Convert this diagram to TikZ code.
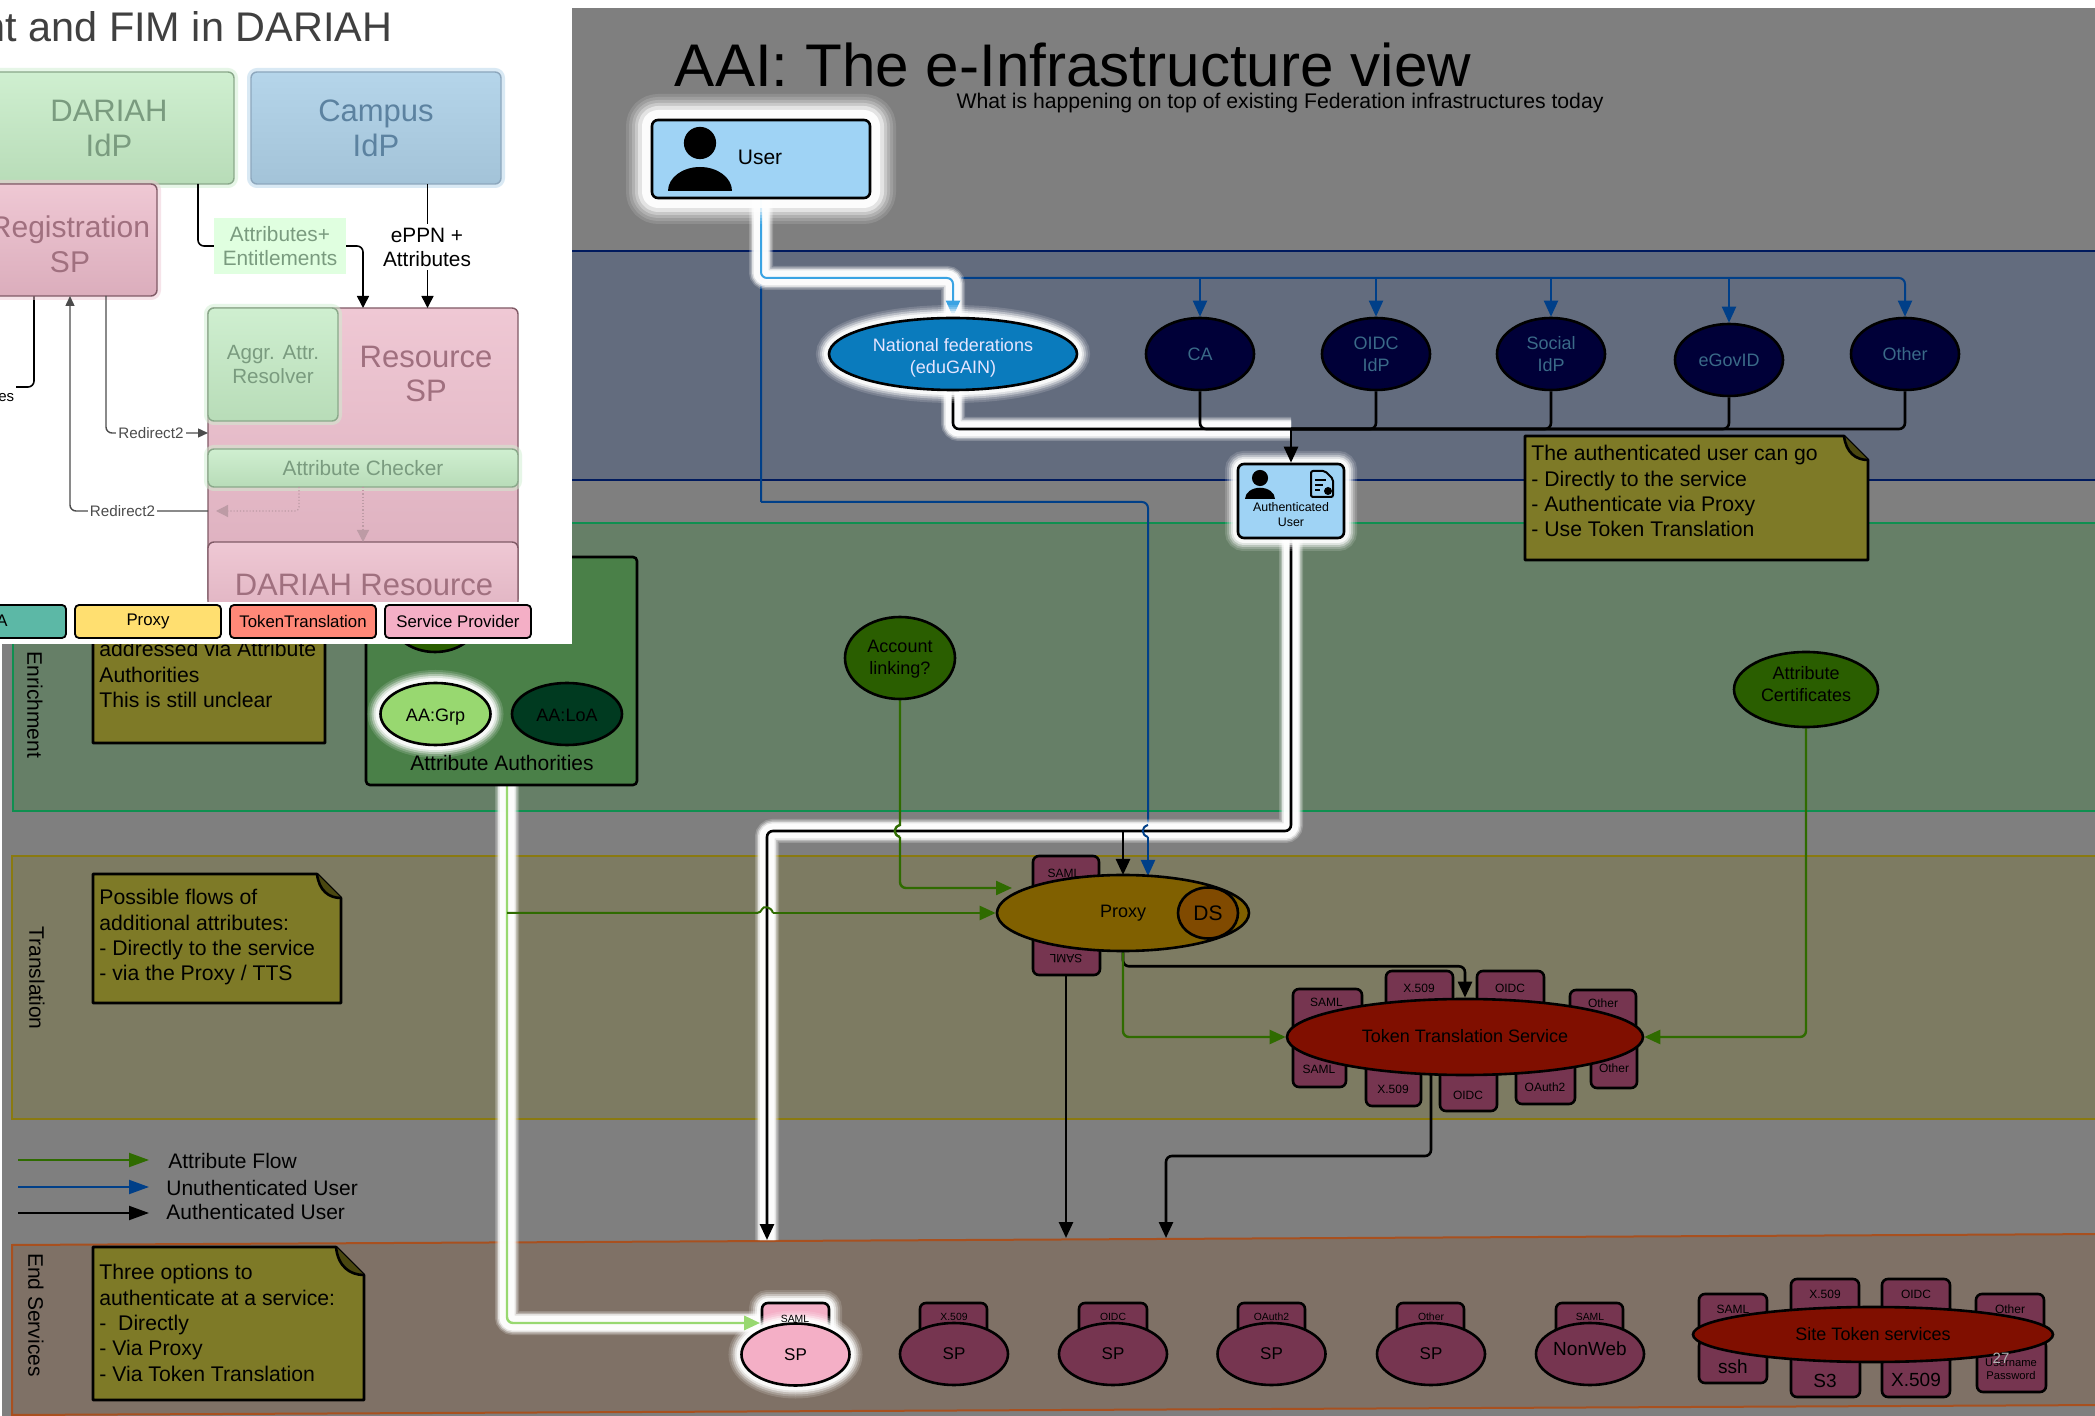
\documentclass[tikz,border=0pt]{standalone}
\usepackage{fontspec}
\setmainfont{Liberation Sans}
\usetikzlibrary{calc}
\usetikzlibrary{arrows.meta}
\usetikzlibrary{shapes.geometric}
\pgfdeclarelayer{flows}
\pgfsetlayers{flows,main}
\definecolor{pageGray}{HTML}{7F7F7F}
\definecolor{fedBand}{HTML}{636C7E}
\definecolor{fedLine}{HTML}{001A5E}
\definecolor{enrichBand}{HTML}{667F67}
\definecolor{enrichLine}{HTML}{0F8F50}
\definecolor{transBand}{HTML}{7D7B62}
\definecolor{transLine}{HTML}{8A7A10}
\definecolor{endBand}{HTML}{7F7166}
\definecolor{endLine}{HTML}{A8501F}
\definecolor{userBlue}{HTML}{9FD3F5}
\definecolor{noteOlive}{HTML}{7E7A27}
\definecolor{noteFold}{HTML}{4A4710}
\definecolor{tokenRed}{HTML}{763550}
\definecolor{ttsRed}{HTML}{800F00}
\definecolor{flowGreen}{HTML}{2F6B00}
\definecolor{flowBlue}{HTML}{003F88}
\definecolor{flowLime}{HTML}{98D870}
\definecolor{flowSky}{HTML}{3AA3E3}
\definecolor{nationalBlue}{HTML}{0A7BBD}
\definecolor{idpNavy}{HTML}{000038}
\definecolor{idpText}{HTML}{3A6A88}
\definecolor{proxyOchre}{HTML}{806000}
\definecolor{discoveryOrange}{HTML}{804A00}
\definecolor{attrBox}{HTML}{4A8048}
\definecolor{attrDark}{HTML}{2A5E00}
\definecolor{loaDark}{HTML}{003A20}
\definecolor{spPink}{HTML}{F4AFC6}
\definecolor{panelGreenA}{HTML}{CFEFD0}
\definecolor{panelGreenB}{HTML}{B8DCB8}
\definecolor{panelGreenText}{HTML}{7A9B7F}
\definecolor{panelGreenLine}{HTML}{8AA88A}
\definecolor{panelBlueA}{HTML}{B5D5EA}
\definecolor{panelBlueB}{HTML}{A3C3D8}
\definecolor{panelBlueText}{HTML}{5C82A0}
\definecolor{panelPinkA}{HTML}{EFC8D4}
\definecolor{panelPinkB}{HTML}{DBADBC}
\definecolor{panelPinkText}{HTML}{A0707F}
\definecolor{entFill}{HTML}{E0FFE0}
\definecolor{keyTeal}{HTML}{5CB8A6}
\definecolor{keyYellow}{HTML}{FFDF70}
\definecolor{keySalmon}{HTML}{FF8878}
\newcommand{\fs}[2]{\fontsize{#1}{#2}\selectfont}
\newcommand{\boxNode}[7]{\node[#2, inner sep=0pt, align=center, minimum width={(#5-#3)*0.5pt}, minimum height={(#6-#4)*0.5pt}] (#1) at ({(#3+#5)/2},{(#4+#6)/2}) {#7};}
\newcommand{\tokenTab}[8]{\boxNode{#1}{tokenBox}{#2}{#3}{#4}{#5}{}
    \node[tokenText] (#1Text) at (#6,#7) {#8};}
\newcommand{\noteBox}[7]{\draw[noteBody] (#2,#3) -- (#4-#6,#3) -- (#4,#3+#6) -- (#4,#5) -- (#2,#5) -- cycle;
    \fill[noteFold] (#4-#6,#3) .. controls (#4-#6+2,#3+#6*0.7) and (#4-#6*0.5,#3+#6) .. (#4,#3+#6) -- cycle;
    \draw[line width=1.3pt] (#4-#6,#3) .. controls (#4-#6+2,#3+#6*0.7) and (#4-#6*0.5,#3+#6) .. (#4,#3+#6);
    \node[noteText] (#1) at (#2+6,#3+#7) {\noteLines};}
\newcommand{\personIcon}[5]{\fill (#1,#2) ellipse[x radius=#3*0.62, y radius=#3*0.62];
    \fill (#1-#4,#5) arc[start angle=180, end angle=360, x radius=#4, y radius=#4*0.75] -- cycle;}

\begin{document}
\begin{tikzpicture}[x=0.5pt,y=-0.5pt]
    \tikzstyle{glowNode} = [preaction={draw=white, opacity=0.12, line width=26pt, line join=round}, preaction={draw=white, opacity=0.15, line width=23pt, line join=round}, preaction={draw=white, opacity=0.2, line width=20pt, line join=round}, preaction={draw=white, opacity=0.3, line width=17pt, line join=round}, preaction={draw=white, opacity=0.5, line width=14pt, line join=round}, preaction={draw=white, opacity=0.9, line width=10pt, line join=round}]
    \tikzstyle{glowSmall} = [preaction={draw=white, opacity=0.15, line width=13pt}, preaction={draw=white, opacity=0.2, line width=11pt}, preaction={draw=white, opacity=0.35, line width=9pt}, preaction={draw=white, opacity=0.55, line width=7pt}, preaction={draw=white, opacity=0.8, line width=5pt}]
    \tikzstyle{glowLine} = [preaction={draw=white, opacity=0.2, line width=12pt, -}, preaction={draw=white, opacity=0.35, line width=10.5pt, -}, preaction={draw=white, opacity=0.6, line width=9pt, -}, preaction={draw=white, opacity=0.9, line width=7.5pt, -}]
    \tikzstyle{tokenBox} = [draw=black, line width=1.3pt, rounded corners=3pt, fill=tokenRed]
    \tikzstyle{tokenText} = [inner sep=0pt, font=\fs{6}{7}]
    \tikzstyle{oval} = [ellipse, draw=black, line width=1.3pt, inner sep=0pt, align=center, font=\fs{9}{11}]
    \tikzstyle{idpOval} = [oval, fill=idpNavy, minimum width=54pt, minimum height=36pt, text=idpText]
    \tikzstyle{spOval} = [oval, fill=tokenRed, minimum width=54pt, minimum height=31pt, font=\fs{8.5}{10}]
    \tikzstyle{attrOval} = [oval, fill=attrDark]
    \tikzstyle{noteBody} = [draw=black, line width=1.3pt, line join=round, fill=noteOlive]
    \tikzstyle{noteText} = [anchor=north west, inner sep=0pt, align=left, font=\fs{10.6}{12.7}]
    \tikzstyle{bandText} = [inner sep=0pt, rotate=-90, font=\fs{10.5}{12}]
    \tikzstyle{flowAuth} = [draw=black, line width=1.3pt, rounded corners=3pt, -{Triangle[length=8pt, width=7pt]}]
    \tikzstyle{flowAuthPlain} = [draw=black, line width=1.3pt, rounded corners=3pt]
    \tikzstyle{flowUnauth} = [draw=flowBlue, line width=1pt, rounded corners=3pt, -{Triangle[length=8pt, width=7pt]}]
    \tikzstyle{flowUnauthPlain} = [draw=flowBlue, line width=1pt, rounded corners=3pt]
    \tikzstyle{flowAttr} = [draw=flowGreen, line width=1.2pt, rounded corners=3pt, -{Triangle[length=8pt, width=7pt]}]
    \tikzstyle{panelBox} = [line width=0.7pt, rounded corners=3pt]
    \tikzstyle{greenBox} = [panelBox, draw=panelGreenLine, top color=panelGreenA, bottom color=panelGreenB, text=panelGreenText, font=\fs{15.5}{17.5}, preaction={draw=panelGreenA, opacity=0.5, line width=4pt}]
    \tikzstyle{campusBox} = [panelBox, draw=panelBlueText!70, top color=panelBlueA, bottom color=panelBlueB, text=panelBlueText, font=\fs{15.5}{17.5}, preaction={draw=panelBlueA, opacity=0.5, line width=4pt}]
    \tikzstyle{pinkBox} = [panelBox, draw=panelPinkText!80!black, top color=panelPinkA, bottom color=panelPinkB, text=panelPinkText, font=\fs{15}{17.5}]
    \tikzstyle{panelFlow} = [draw=black!70, line width=0.7pt, rounded corners=3pt, -{Triangle[length=5pt, width=4.5pt]}]
    \tikzstyle{keyBox} = [draw=black, line width=0.9pt, rounded corners=2pt, font=\fs{8.4}{10}]
    \useasboundingbox (0,0) rectangle (2095,1416);

    \begin{pgfonlayer}{flows}
        \fill[white] (0,0) rectangle (2095,1416);
        \fill[pageGray] (2,8) rectangle (2095,1416);
        \filldraw[fill=fedBand, draw=fedLine, line width=1pt] (500,251) rectangle (2110,480);
        \filldraw[fill=enrichBand, draw=enrichLine, line width=1pt] (12.5,523) rectangle (2110,811);
        \filldraw[fill=transBand, draw=transLine, line width=1pt] (12,856) rectangle (2110,1119);
        \filldraw[fill=endBand, draw=endLine, line width=1pt] (12,1245) -- (2110,1234) -- (2110,1405) -- (12,1415) -- cycle;
    \end{pgfonlayer}

    \node[inner sep=0pt, font=\fs{30.1}{32}] (pageTitle) at (1073,65) {AAI: The e-Infrastructure view};
    \node[inner sep=0pt, font=\fs{10.6}{13}] (pageSub) at (1280,103) {What is happening on top of existing Federation infrastructures today};

    \boxNode{user}{draw=black, line width=1.3pt, rounded corners=3pt, fill=userBlue, glowNode}{652}{120}{870}{198}{}
    \personIcon{700}{143}{26}{32}{191}
    \node[inner sep=0pt, font=\fs{10.5}{12}] (userText) at (760,157) {User};

    \node[oval, glowSmall, fill=nationalBlue, minimum width=124pt, minimum height=36pt] (national) at (953,354) {};
    \node[inner sep=0pt, align=center, text=white!90!blue, font=\fs{9}{11.2}] (nationalText) at (953,358) {National federations\\(eduGAIN)};
    \node[idpOval] (ca) at (1200,354) {CA};
    \node[idpOval] (oidcIdp) at (1376,354) {OIDC\\IdP};
    \node[idpOval] (socialIdp) at (1551,354) {Social\\IdP};
    \node[idpOval] (eGovId) at (1729,360) {eGovID};
    \node[idpOval] (otherIdp) at (1905,354) {Other};

    \boxNode{authUser}{draw=black, line width=1.3pt, rounded corners=3pt, fill=userBlue, glowSmall}{1238}{464}{1344}{538}{}
    \personIcon{1260}{478}{13}{15}{499}
    \draw[line width=1pt, rounded corners=1pt] (1311,471) -- (1325,471) -- (1333,479) -- (1333,497) -- (1311,497) -- cycle;
    \draw[line width=0.7pt] (1315,480) -- (1326,480) (1315,485) -- (1323,485) (1315,490) -- (1320,490);
    \fill[black] (1328,491) circle[radius=4];
    \node[inner sep=0pt, align=center, font=\fs{6.2}{7.6}] (authText) at (1291,514.5) {Authenticated\\User};

    \def\noteLines{The authenticated user can go\\- Directly to the service\\- Authenticate via Proxy\\- Use Token Translation}
    \noteBox{noteAuth}{1525}{436}{1868}{560}{24}{9}

    \boxNode{aaBox}{draw=black, line width=1.3pt, rounded corners=2pt, fill=attrBox}{366}{557}{637}{785}{}
    \node[attrOval, minimum width=43pt, minimum height=32pt] (aaTop) at (435,620) {};
    \node[oval, glowSmall, fill=flowLime, minimum width=55pt, minimum height=31pt] (aaGrp) at (435.5,714) {};
    \node[inner sep=0pt, font=\fs{9}{11}] (aaGrpText) at (435.5,717) {AA:Grp};
    \node[oval, fill=loaDark, minimum width=55pt, minimum height=31pt] (aaLoa) at (567,714) {};
    \node[inner sep=0pt, font=\fs{9}{11}] (aaLoaText) at (567,715) {AA:LoA};
    \node[inner sep=0pt, font=\fs{10.5}{12}] (aaText) at (502,763) {Attribute Authorities};

    \def\noteLines{addressed via Attribute\\Authorities\\This is still unclear}
    \noteBox{noteEnrich}{93}{600}{325}{743}{1}{41}
    \node[bandText] (enrichText) at (35,705) {Enrichment};
    \node[bandText] (transText) at (37,978) {Translation};
    \node[bandText] (endText) at (36,1315) {End Services};

    \node[attrOval, minimum width=55pt, minimum height=41pt] (accountLink) at (900,658) {};
    \node[inner sep=0pt, align=center, font=\fs{9}{11}] (accountText) at (900,659) {Account\\linking?};
    \node[attrOval, minimum width=72pt, minimum height=37.5pt] (attrCert) at (1806,689.5) {};
    \node[inner sep=0pt, align=center, font=\fs{9}{11}] (attrCertText) at (1806,684) {Attribute\\Certificates};

    \def\noteLines{Possible flows of\\additional attributes:\\- Directly to the service\\- via the Proxy / TTS}
    \noteBox{noteTrans}{93}{874}{341}{1003}{24}{15}

    \tokenTab{proxySamlTop}{1033}{856}{1099}{900}{1064}{873}{SAML}
    \boxNode{proxySamlBottom}{tokenBox}{1033}{930}{1100}{975}{}
    \node[tokenText, rotate=180] (proxySamlBottomText) at (1066,959) {SAML};
    \node[oval, fill=proxyOchre, minimum width=126pt, minimum height=38pt] (proxy) at (1123,913) {};
    \node[inner sep=0pt, font=\fs{9}{11}] (proxyText) at (1123,913) {Proxy};
    \node[oval, fill=discoveryOrange, minimum width=30pt, minimum height=25.5pt, font=\fs{10.5}{12}] (discovery) at (1208,913) {DS};

    \tokenTab{ttsSamlA}{1293}{989}{1362}{1040}{1326.5}{1002}{SAML}
    \tokenTab{ttsX509A}{1386}{971}{1453}{1020}{1419}{988}{X.509}
    \tokenTab{ttsOidcA}{1477}{971}{1544}{1020}{1510}{988}{OIDC}
    \tokenTab{ttsOtherA}{1570}{990}{1636}{1040}{1603}{1003}{Other}
    \tokenTab{ttsSamlB}{1293}{1040}{1346}{1087}{1319}{1069}{SAML}
    \tokenTab{ttsX509B}{1366}{1050}{1421}{1106}{1393}{1089}{X.509}
    \tokenTab{ttsOidcB}{1440}{1050}{1497}{1111}{1468}{1095}{OIDC}
    \tokenTab{ttsOauthB}{1516}{1050}{1575}{1104}{1545}{1087}{OAuth2}
    \tokenTab{ttsOtherB}{1591}{1040}{1637}{1088}{1614}{1068}{Other}
    \node[oval, fill=ttsRed, minimum width=178pt, minimum height=38pt] (tts) at (1465,1037) {};
    \node[inner sep=0pt, font=\fs{9}{11}] (ttsText) at (1465,1036) {Token Translation Service};

    \coordinate (keyGreenA) at (18,1160);
    \coordinate (keyGreenB) at (149,1160);
    \coordinate (keyBlueA) at (18,1187);
    \coordinate (keyBlueB) at (149,1187);
    \coordinate (keyBlackA) at (18,1213);
    \coordinate (keyBlackB) at (149,1213);
    \draw[flowGreen, line width=1pt, -{Triangle[length=10pt, width=7pt]}] (keyGreenA) -- (keyGreenB);
    \draw[flowBlue, line width=1pt, -{Triangle[length=10pt, width=7pt]}] (keyBlueA) -- (keyBlueB);
    \draw[black, line width=1pt, -{Triangle[length=10pt, width=7pt]}] (keyBlackA) -- (keyBlackB);
    \node[anchor=west, inner sep=0pt, font=\fs{10.5}{12}] (keyGreenText) at (168,1161) {Attribute Flow};
    \node[anchor=west, inner sep=0pt, font=\fs{10.5}{12}] (keyBlueText) at (166,1188) {Unuthenticated User};
    \node[anchor=west, inner sep=0pt, font=\fs{10.5}{12}] (keyBlackText) at (166,1212) {Authenticated User};

    \def\noteLines{Three options to\\authenticate at a service:\\-\ \ Directly\\- Via Proxy\\- Via Token Translation}
    \noteBox{noteEnd}{93}{1247}{364}{1400}{28}{17}

    \boxNode{spSamlTab}{tokenBox, fill=spPink, glowSmall}{762}{1303}{829}{1345}{}
    \node[spOval, glowSmall, fill=spPink] (spSaml) at (795.5,1354.5) {SP};
    \node[tokenText, font=\fs{5.2}{6}] (spSamlText) at (795,1319) {SAML};
    \tokenTab{spX509Tab}{920}{1303}{987}{1345}{954}{1317}{\fs{5.2}{6}X.509}
    \node[spOval] (spX509) at (954,1354) {SP};
    \tokenTab{spOidcTab}{1079}{1303}{1147}{1345}{1113}{1317}{\fs{5.2}{6}OIDC}
    \node[spOval] (spOidc) at (1113,1354) {SP};
    \tokenTab{spOauthTab}{1238}{1303}{1305}{1345}{1271.5}{1317}{\fs{5.2}{6}OAuth2}
    \node[spOval] (spOauth) at (1271.5,1354) {SP};
    \tokenTab{spOtherTab}{1397}{1303}{1464}{1345}{1431}{1317}{\fs{5.2}{6}Other}
    \node[spOval] (spOther) at (1431,1354) {SP};
    \tokenTab{nonWebTab}{1556}{1303}{1623}{1345}{1590}{1317}{\fs{5.2}{6}SAML}
    \node[spOval] (nonWeb) at (1590,1354) {};
    \node[inner sep=0pt, font=\fs{9.5}{11}] (nonWebText) at (1590,1349) {NonWeb};

    \tokenTab{siteSamlA}{1699}{1294}{1767}{1335}{1733}{1309}{SAML}
    \tokenTab{siteX509A}{1791}{1279}{1859}{1320}{1825}{1294}{X.509}
    \tokenTab{siteOidcA}{1882}{1279}{1950}{1320}{1916}{1294}{OIDC}
    \tokenTab{siteOtherA}{1976}{1294}{2044}{1335}{2010}{1309}{Other}
    \tokenTab{siteSshB}{1699}{1340}{1767}{1383}{1733}{1367}{\fs{9.5}{11}ssh}
    \tokenTab{siteS3B}{1791}{1345}{1860}{1397}{1825}{1381}{\fs{9.5}{11}S3}
    \tokenTab{siteX509B}{1882}{1345}{1950}{1397}{1916}{1380}{\fs{9.5}{11}X.509}
    \boxNode{sitePassB}{tokenBox}{1977}{1340}{2046}{1392}{}
    \node[tokenText, align=center, font=\fs{5.6}{6.2}] (sitePassText) at (2011,1369) {Username\\Password};
    \node[oval, fill=ttsRed, minimum width=180pt, minimum height=27.5pt] (siteToken) at (1873,1334.5) {Site Token services};
    \node[inner sep=0pt, text=black!30, font=\fs{7.5}{9}] (pageNumber) at (2001,1358) {27};

    \begin{pgfonlayer}{flows}
        \coordinate (busTurn) at (761,278);
        \coordinate (downTurn) at (761,502);
        \coordinate (proxyBlue) at (1148,876);
        \coordinate (proxyBlack) at (1123,875);
        \coordinate (mergeTop) at (1291,429);
        \coordinate (authTurn) at (1291,831);
        \coordinate (authDrop) at (767,1240);
        \coordinate (authBranch) at (1123,831);
        \coordinate (aaOut) at (507,785);
        \coordinate (aaBranch) at (507,913);
        \coordinate (spEntry) at (760,1323);
        \coordinate (spEntryBack) at (735,1323);
        \coordinate (hopBlueA) at (1148,825);
        \coordinate (hopBlueB) at (1148,837);
        \coordinate (hopLinkA) at (900,825);
        \coordinate (hopLinkB) at (900,837);
        \coordinate (hopAaA) at (761,913);
        \coordinate (hopAaB) at (773,913);
        \coordinate (proxyLink) at (1012,888);
        \coordinate (samlOut) at (1066,975);
        \coordinate (samlDrop) at (1066,1238);
        \coordinate (ttsOut) at (1431,1075);
        \coordinate (ttsTurn) at (1431,1156);
        \coordinate (ttsDrop) at (1166,1238);

        \draw[flowUnauth] (downTurn) -- (busTurn) -- (otherIdp.north |- busTurn) -- (otherIdp.north);
        \draw[flowUnauth] (ca.north |- busTurn) -- (ca.north);
        \draw[flowUnauth] (oidcIdp.north |- busTurn) -- (oidcIdp.north);
        \draw[flowUnauth] (socialIdp.north |- busTurn) -- (socialIdp.north);
        \draw[flowUnauth] (eGovId.north |- busTurn) -- (eGovId.north);
        \draw[flowUnauth, flowSky, glowLine] (user.south -| busTurn) -- (busTurn) -| (national.north);
        \draw[flowUnauthPlain] (downTurn) -- (downTurn -| proxyBlue) -- (hopBlueA);

        \draw[flowAuthPlain, glowLine] (national.south) |- (mergeTop);
        \draw[flowAuthPlain] (ca.south) |- (mergeTop);
        \draw[flowAuthPlain] (oidcIdp.south) |- (mergeTop);
        \draw[flowAuthPlain] (socialIdp.south) |- (mergeTop);
        \draw[flowAuthPlain] (eGovId.south) |- (mergeTop);
        \draw[flowAuthPlain] (otherIdp.south) |- (mergeTop);

        \draw[flowAttr, flowLime, glowLine] (aaOut) |- (spEntry);
        \draw[flowAuth, glowLine] (authUser.south) -- (authTurn) -| (authDrop);
        \draw[flowAuth] (authBranch) -- (proxyBlack);
        \draw[flowGreen, line width=1pt, rounded corners=2pt] (aaBranch) -- (hopAaA) .. controls ($(hopAaA)+(2,-7)$) and ($(hopAaB)+(-2,-7)$) .. (hopAaB);
        \draw[flowAttr] (hopAaB) -- (proxy.west);
        \draw[flowBlue, line width=1pt] (hopBlueA) .. controls ($(hopBlueA)+(-7,2)$) and ($(hopBlueB)+(-7,-2)$) .. (hopBlueB);
        \draw[flowUnauth] (hopBlueB) -- (proxyBlue);
        \draw[flowGreen, line width=1.2pt] (accountLink.south) -- (hopLinkA) .. controls ($(hopLinkA)+(-7,2)$) and ($(hopLinkB)+(-7,-2)$) .. (hopLinkB);
        \draw[flowAttr] (hopLinkB) |- (proxyLink);
        \draw[flowAuth] (proxy.south) -- ++(0,14) -| (tts.north);
        \draw[flowAttr] (proxy.south) |- (tts.west);
        \draw[flowAuth] (samlOut) -- (samlDrop);
        \draw[flowAuth] (ttsOut) -- (ttsTurn) -| (ttsDrop);
        \draw[flowAttr] (attrCert.south) |- (tts.east);
    \end{pgfonlayer}
    \draw[flowAuth] (mergeTop) -- (authUser.north);
    \draw[flowAttr, flowLime] (spEntryBack) -- (spEntry);

    \fill[white] (0,0) rectangle (572,644);
    \node[anchor=east, inner sep=0pt, text=black!75, font=\fs{20.7}{24}] (panelTitle) at (392.5,27) {nt and FIM in DARIAH};
    \boxNode{dariahIdp}{greenBox}{-16}{72}{234}{184}{DARIAH\\IdP}
    \boxNode{campusIdp}{campusBox}{251}{72}{501}{184}{Campus\\IdP}
    \boxNode{resourceSp}{pinkBox}{208}{308}{518}{604}{}
    \node[inner sep=0pt, align=center, text=panelPinkText, font=\fs{15.5}{17}] (resourceText) at (426,374) {Resource\\SP};
    \boxNode{aggrAttr}{greenBox, font=\fs{10.3}{11.8}}{208}{308}{338}{421}{Aggr. Attr.\\Resolver}
    \boxNode{attrChecker}{greenBox, font=\fs{10.4}{11}}{208}{449}{518}{487}{Attribute Checker}
    \boxNode{dariahRes}{pinkBox}{208}{542}{518}{640}{}
    \node[inner sep=0pt, text=panelPinkText, font=\fs{15.5}{17}] (dariahResText) at (364,585) {DARIAH Resource};

    \coordinate (dariahOut) at (198,184);
    \coordinate (campusOut) at (427.5,184);
    \coordinate (resourceIn) at (427.5,308);
    \coordinate (resourceIn2) at (363,308);
    \coordinate (entTurn) at (198,246);
    \coordinate (regOutA) at (34,296);
    \coordinate (regOutB) at (106,296);
    \coordinate (regIn) at (70,296);
    \coordinate (redirectA) at (208,433);
    \coordinate (redirectB) at (208,511);
    \coordinate (checkOutA) at (299,487);
    \coordinate (checkOutB) at (363,487);
    \coordinate (checkEndA) at (216,511);
    \coordinate (checkEndB) at (363,542);
    \coordinate (esEnd) at (16,387);

    \draw[draw=black, line width=0.8pt, rounded corners=3pt, -{Triangle[length=6pt, width=6pt]}] (dariahOut) |- (resourceIn2 |- entTurn) -- (resourceIn2);
    \draw[draw=black, line width=0.8pt, -{Triangle[length=6pt, width=6pt]}] (campusOut) -- (resourceIn);
    \draw[draw=black, line width=0.8pt, rounded corners=3pt] (regOutA) |- (esEnd);
    \node[anchor=east, inner sep=0pt, font=\fs{7.5}{9}] (esText) at (14.5,398) {es};
    \boxNode{registrationSp}{pinkBox, preaction={draw=panelPinkA, opacity=0.5, line width=4pt}}{-16}{184}{157}{296}{}
    \node[inner sep=0pt, align=center, text=panelPinkText, font=\fs{15}{17.5}] (registrationText) at (70,244) {Registration\\SP};
    \draw[panelFlow] (regOutB) |- (redirectA);
    \draw[panelFlow] (redirectB) -| (regIn);
    \draw[draw=panelPinkText!70, line width=0.6pt, densely dotted, rounded corners=2pt, -{Triangle[length=6pt, width=6pt]}] (checkOutA) |- (checkEndA);
    \draw[draw=panelPinkText!70, line width=0.6pt, densely dotted, -{Triangle[length=6pt, width=6pt]}] (checkOutB) -- (checkEndB);
    \node[fill=white, inner sep=1pt, text=black!70, font=\fs{7.6}{9}] (redirectTextA) at (151,433) {Redirect2};
    \node[fill=white, inner sep=1pt, text=black!70, font=\fs{7.6}{9}] (redirectTextB) at (122.5,511) {Redirect2};
    \node[fill=entFill, preaction={draw=entFill, line width=4pt}, inner sep=2pt, text=panelGreenText, align=center, minimum width=62pt, minimum height=22pt, font=\fs{10.4}{12}] (entText) at (280,246) {Attributes+\\Entitlements};
    \node[fill=white, inner sep=2pt, align=center, font=\fs{10.4}{12}] (eppnText) at (427,247) {ePPN +\\Attributes};

    \fill[white] (0,602) rectangle (572,644);
    \boxNode{keyAa}{keyBox, fill=keyTeal}{-20}{605}{66}{638}{}
    \node[anchor=east, inner sep=0pt, font=\fs{8.4}{10}] (keyAaText) at (8,621) {A};
    \boxNode{keyProxy}{keyBox, fill=keyYellow}{75}{605}{221}{638}{Proxy}
    \boxNode{keyToken}{keyBox, fill=keySalmon}{230}{605}{376}{638}{TokenTranslation}
    \boxNode{keyService}{keyBox, fill=spPink}{385}{605}{531}{638}{Service Provider}
\end{tikzpicture}
\end{document}
